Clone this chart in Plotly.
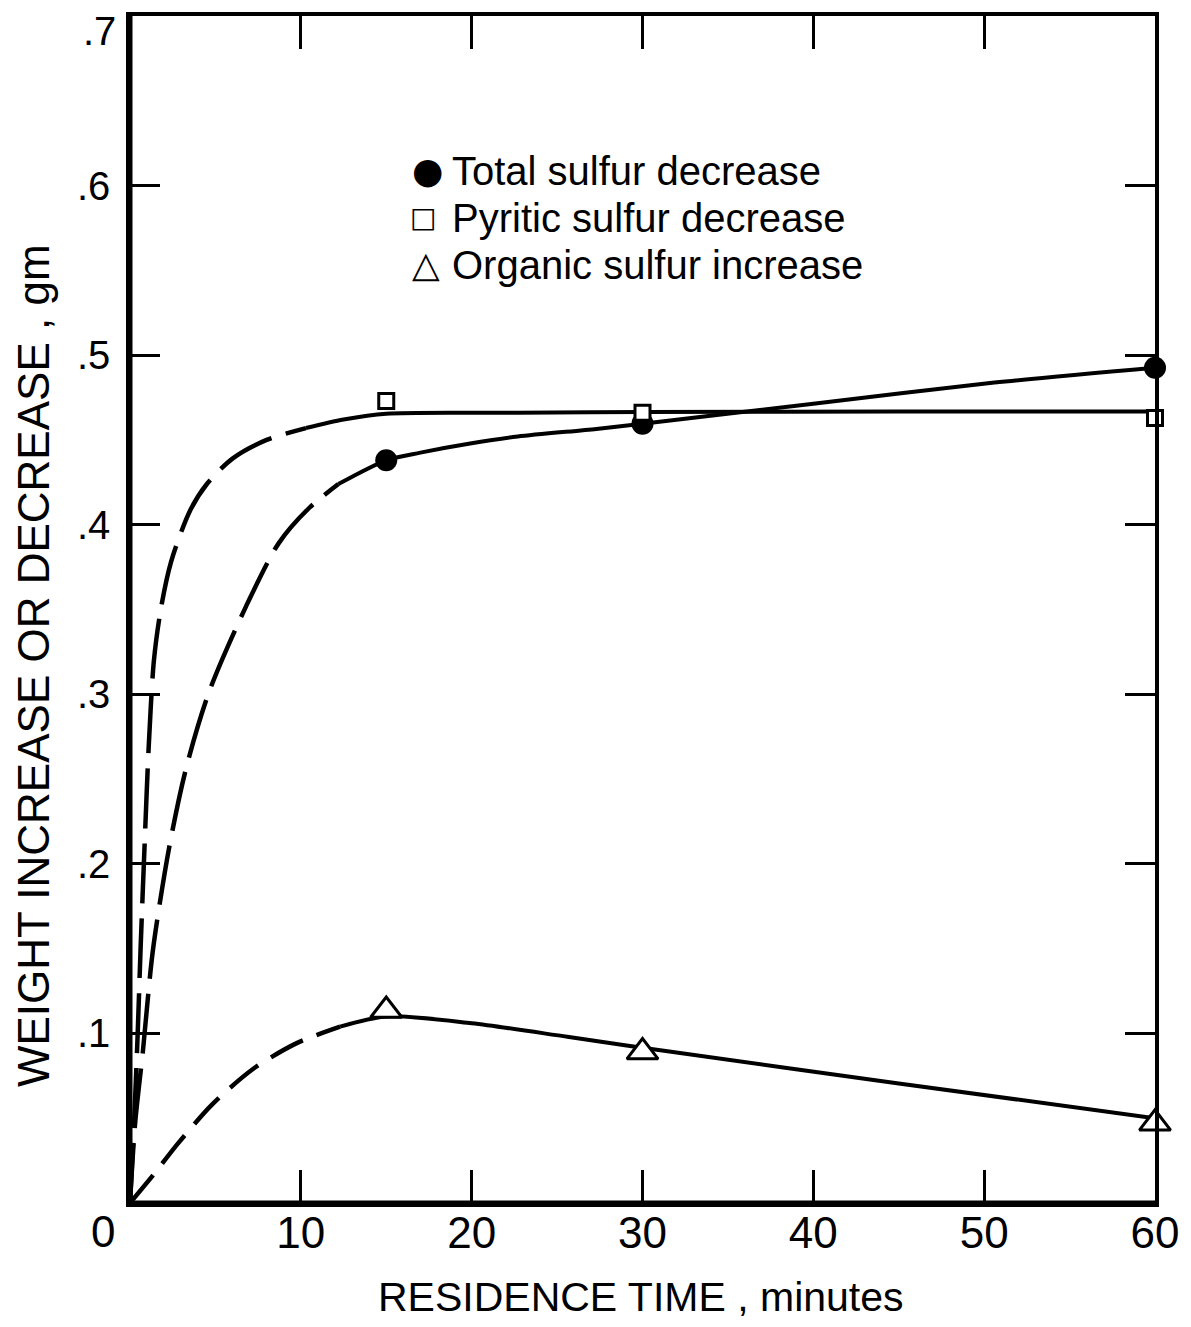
import plotly.graph_objects as go

# Measured points: residence time (minutes) vs. sulfur weight change (gm)
time_points = [15, 30, 60]
total_decrease = [0.438, 0.4596, 0.4926]
pyritic_decrease = [0.473, 0.466, 0.463]
organic_increase = [0.1135, 0.089, 0.047]

# Trend curves drawn through the points (dashed where extrapolated to the origin)
total_curve_x = [0, 0.3, 0.76, 1.34, 2.3, 3.3, 4.65, 6.8, 8.7, 10.5, 12.2,
                 15, 17, 20, 22.7, 27.3, 30, 40, 50.6, 60]
total_curve_y = [0, 0.047, 0.09, 0.149, 0.21, 0.257, 0.302, 0.352, 0.389, 0.41, 0.424,
                 0.438, 0.4425, 0.448, 0.452, 0.4565, 0.4596, 0.4713, 0.4838, 0.4926]
total_split = 12.2

pyritic_curve_x = [0, 0.25, 0.45, 0.62, 0.85, 1.1, 1.4, 1.8, 2.4, 3.5, 4.5, 6.0,
                   8.0, 10.3, 12.5, 15, 22.7, 30, 45, 60]
pyritic_curve_y = [0, 0.05, 0.10, 0.15, 0.21, 0.27, 0.32, 0.35, 0.378, 0.408, 0.424, 0.439,
                   0.45, 0.457, 0.462, 0.4655, 0.466, 0.4665, 0.4667, 0.4667]
pyritic_split = 10.3

organic_curve_x = [0, 1.4, 2.8, 4.8, 7.2, 9.7, 12.3, 15, 20, 25.6, 30, 45, 60]
organic_curve_y = [0, 0.017, 0.035, 0.058, 0.079, 0.094, 0.104, 0.110, 0.106, 0.098,
                   0.0915, 0.0705, 0.050]
organic_split = 12.3

x_ticks = [10, 20, 30, 40, 50, 60]
x_tick_text = ["10", "20", "30", "40", "50", "60"]
y_ticks = [0.1, 0.2, 0.3, 0.4, 0.5, 0.6]
y_tick_text = [".1", ".2", ".3", ".4", ".5", ".6"]

legend_labels = ["Total sulfur decrease", "Pyritic sulfur decrease", "Organic sulfur increase"]

FONT = "Liberation Sans, Arial, sans-serif"
INK = "black"

fig = go.Figure()


def add_curve(xs, ys, split, dash):
    dashed_x = [x for x in xs if x <= split]
    dashed_y = [y for x, y in zip(xs, ys) if x <= split]
    solid_x = [x for x in xs if x >= split]
    solid_y = [y for x, y in zip(xs, ys) if x >= split]
    fig.add_trace(go.Scatter(x=dashed_x, y=dashed_y, mode="lines", showlegend=False,
                             line=dict(color=INK, width=4.5, dash=dash, shape="spline",
                                       smoothing=0.8),
                             hoverinfo="skip"))
    fig.add_trace(go.Scatter(x=solid_x, y=solid_y, mode="lines", showlegend=False,
                             line=dict(color=INK, width=4, shape="spline", smoothing=0.8),
                             hoverinfo="skip"))


add_curve(pyritic_curve_x, pyritic_curve_y, pyritic_split, "60px,15px")
add_curve(total_curve_x, total_curve_y, total_split, "60px,15px")
add_curve(organic_curve_x, organic_curve_y, organic_split, "36px,15px")

fig.add_trace(go.Scatter(x=time_points, y=total_decrease, mode="markers",
                         name=legend_labels[0], showlegend=False, cliponaxis=False,
                         marker=dict(symbol="circle", size=22, color=INK,
                                     line=dict(width=0))))
fig.add_trace(go.Scatter(x=time_points, y=pyritic_decrease, mode="markers",
                         name=legend_labels[1], showlegend=False, cliponaxis=False,
                         marker=dict(symbol="square", size=15, color="white",
                                     line=dict(width=3, color=INK))))
fig.add_trace(go.Scatter(x=time_points, y=organic_increase, mode="markers",
                         name=legend_labels[2], showlegend=False, cliponaxis=False,
                         marker=dict(symbol="triangle-up", size=27, color="white",
                                     line=dict(width=3, color=INK))))

# Plot-area geometry in pixels
W, H = 1191, 1327
L, R, T, B = 130, 1162, 15, 1203
pw, ph = R - L, B - T


def px_x(p):
    return (p - L) / pw


def px_y(p):
    return (B - p) / ph


annotations = []
# Key inside the plot
key_symbols = ["●", "□", "△"]
key_sizes = [36, 28, 36]
key_sym_x = [430, 425, 428]
key_rows = [170, 217, 264]
for sym, size, sx, label, ry in zip(key_symbols, key_sizes, key_sym_x, legend_labels, key_rows):
    annotations.append(dict(x=px_x(sx), y=px_y(ry), xref="paper", yref="paper",
                            text=sym, showarrow=False, xanchor="center", yanchor="middle",
                            font=dict(family="DejaVu Sans", size=size, color=INK)))
    annotations.append(dict(x=px_x(452), y=px_y(ry), xref="paper", yref="paper",
                            text=label, showarrow=False, xanchor="left", yanchor="middle",
                            font=dict(family=FONT, size=40, color=INK)))

# Corner tick labels
annotations.append(dict(x=px_x(103), y=px_y(1232), xref="paper", yref="paper", text="0",
                        showarrow=False, xanchor="center", yanchor="middle",
                        font=dict(family=FONT, size=44, color=INK)))
annotations.append(dict(x=px_x(118), y=px_y(30), xref="paper", yref="paper", text=".7",
                        showarrow=False, xanchor="right", yanchor="middle",
                        font=dict(family=FONT, size=40, color=INK)))

# Axis titles
annotations.append(dict(x=px_x(644), y=px_y(1297), xref="paper", yref="paper",
                        text="RESIDENCE TIME , minutes", showarrow=False,
                        xanchor="center", yanchor="middle",
                        font=dict(family=FONT, size=41, color=INK)))
annotations.append(dict(x=px_x(33), y=px_y(665), xref="paper", yref="paper",
                        text="WEIGHT INCREASE OR DECREASE , gm", showarrow=False,
                        textangle=-90, xanchor="center", yanchor="middle",
                        font=dict(family=FONT, size=44, color=INK)))

# Heavier left and bottom frame edges
shapes = [
    dict(type="line", xref="paper", yref="paper", x0=0, x1=0, y0=0, y1=1,
         line=dict(color=INK, width=5)),
    dict(type="line", xref="paper", yref="paper", x0=0, x1=1, y0=0, y1=0,
         line=dict(color=INK, width=5)),
]

fig.update_layout(
    width=W, height=H,
    margin=dict(l=L, r=W - R, t=T, b=H - B),
    paper_bgcolor="white", plot_bgcolor="white",
    showlegend=False,
    annotations=annotations,
    shapes=shapes,
    font=dict(family=FONT, color=INK),
)

fig.update_xaxes(range=[0, 60], showgrid=False, zeroline=False,
                 showline=True, linewidth=3.5, linecolor=INK, mirror="ticks",
                 ticks="inside", ticklen=33, tickwidth=2.5, tickcolor=INK,
                 tickvals=x_ticks, ticktext=x_tick_text,
                 tickfont=dict(family=FONT, size=44, color=INK),
                 ticklabelstandoff=-12)
fig.update_yaxes(range=[0, 0.7], showgrid=False, zeroline=False,
                 showline=True, linewidth=3.5, linecolor=INK, mirror="ticks",
                 ticks="inside", ticklen=30, tickwidth=2.5, tickcolor=INK,
                 tickvals=y_ticks, ticktext=y_tick_text,
                 tickfont=dict(family=FONT, size=40, color=INK),
                 ticklabelstandoff=8)

fig.write_html("out.html")
